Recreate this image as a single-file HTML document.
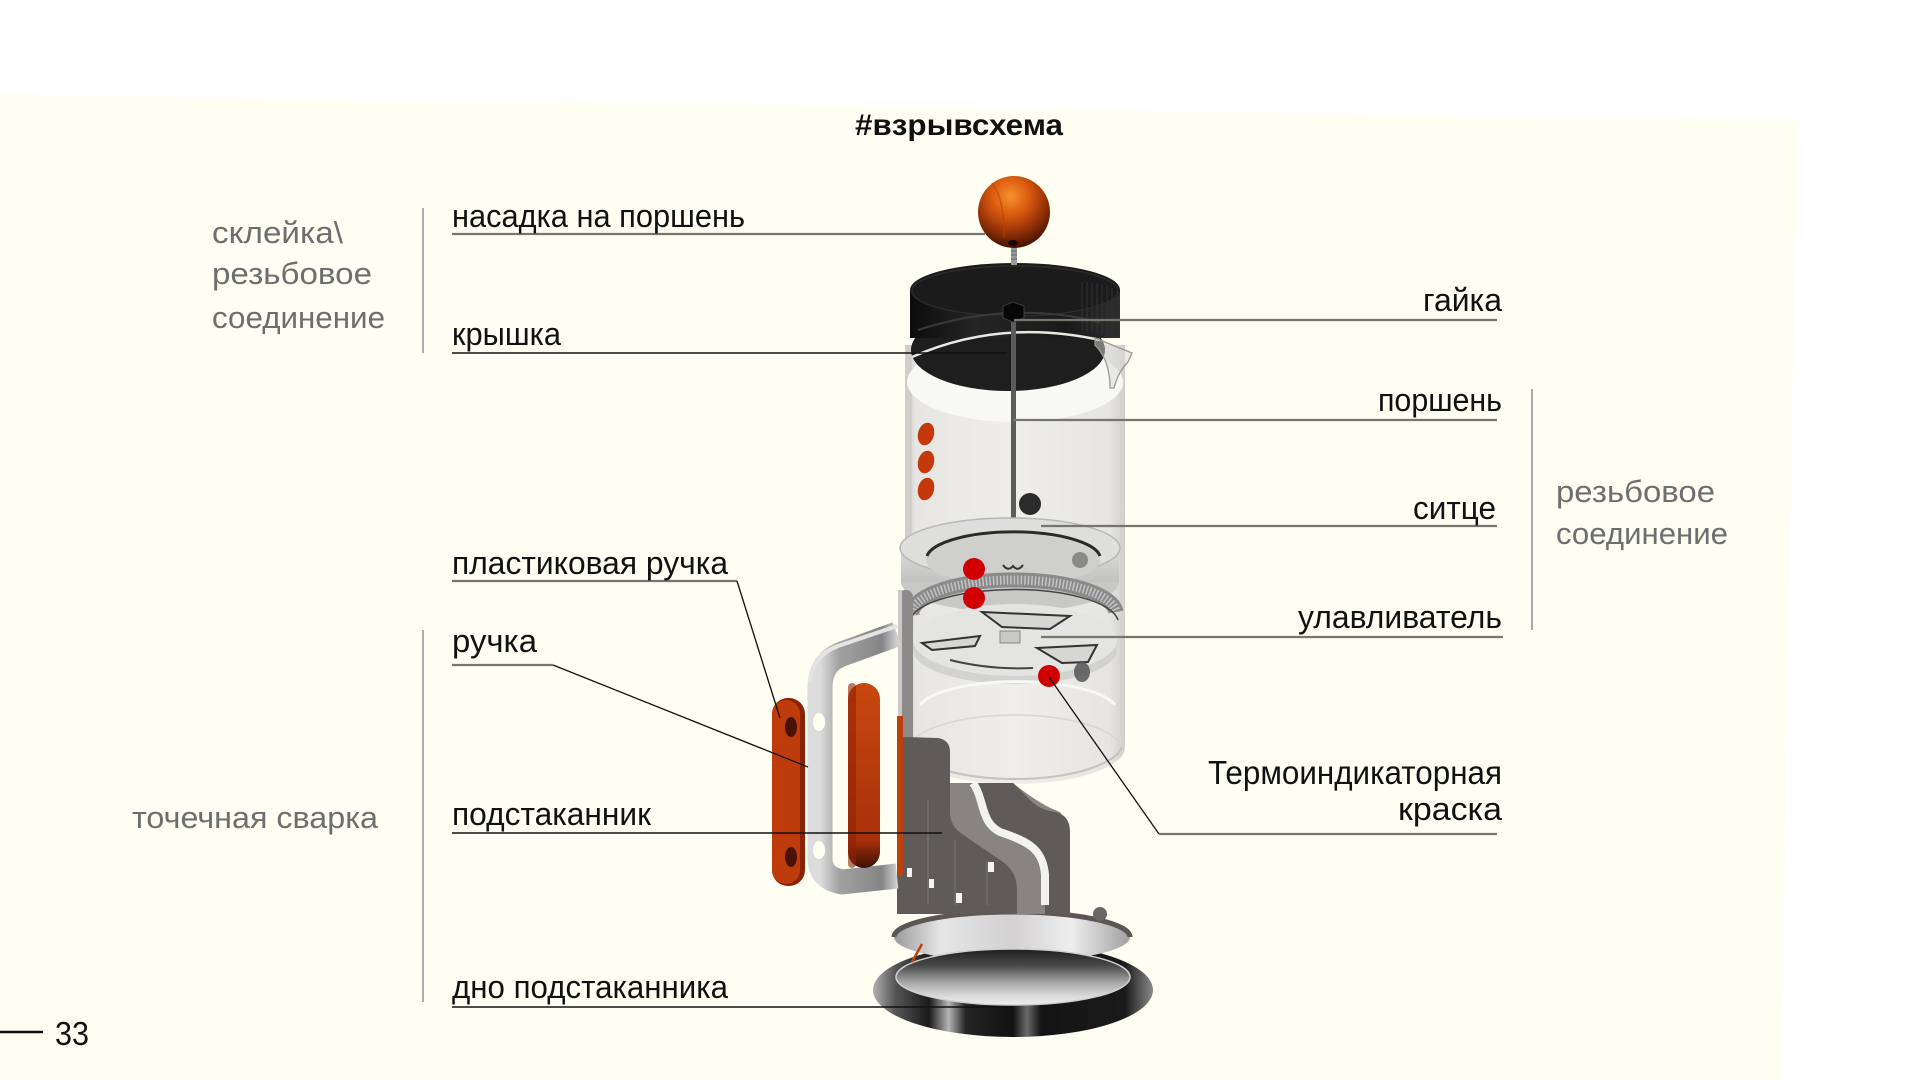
<!DOCTYPE html>
<html><head><meta charset="utf-8">
<style>
html,body{margin:0;padding:0;background:#fff;width:1920px;height:1080px;overflow:hidden;}
svg{display:block;}
text{font-family:"Liberation Sans","DejaVu Sans",sans-serif;}
</style></head><body>
<svg width="1920" height="1080" viewBox="0 0 1920 1080" xmlns="http://www.w3.org/2000/svg">
<defs>
 <radialGradient id="ball" cx="0.45" cy="0.28" r="0.75">
  <stop offset="0" stop-color="#F6922E"/>
  <stop offset="0.35" stop-color="#DA5A10"/>
  <stop offset="0.7" stop-color="#8E2E06"/>
  <stop offset="1" stop-color="#3a1003"/>
 </radialGradient>
 <linearGradient id="lidside" x1="0" x2="1">
  <stop offset="0" stop-color="#0c0c0c"/><stop offset="0.3" stop-color="#242424"/><stop offset="0.75" stop-color="#1a1a1a"/><stop offset="1" stop-color="#2e2e2e"/>
 </linearGradient>
 <linearGradient id="glass" x1="0" x2="1">
  <stop offset="0" stop-color="#c9c8c4"/><stop offset="0.05" stop-color="#e7e6e2"/><stop offset="0.5" stop-color="#efeee9"/><stop offset="0.93" stop-color="#e6e5e1"/><stop offset="1" stop-color="#d0cfcb"/>
 </linearGradient>
 <linearGradient id="foot" x1="0" x2="1">
  <stop offset="0" stop-color="#b0b0b0"/><stop offset="0.08" stop-color="#555"/><stop offset="0.2" stop-color="#1a1a1a"/>
  <stop offset="0.27" stop-color="#b5b5b5"/><stop offset="0.33" stop-color="#262626"/><stop offset="0.5" stop-color="#111"/>
  <stop offset="0.55" stop-color="#6a6a6a"/><stop offset="0.6" stop-color="#141414"/><stop offset="0.9" stop-color="#1a1a1a"/><stop offset="1" stop-color="#8a8a8a"/>
 </linearGradient>
 <linearGradient id="footIn" x1="0" y1="0" x2="0" y2="1">
  <stop offset="0" stop-color="#1e1e1e"/><stop offset="0.3" stop-color="#4a4a4a"/><stop offset="0.6" stop-color="#a8a8a8"/><stop offset="0.85" stop-color="#dcdcdc"/><stop offset="1" stop-color="#eeeeee"/>
 </linearGradient>
 <linearGradient id="silver" x1="0" x2="1">
  <stop offset="0" stop-color="#9a9a9a"/><stop offset="0.2" stop-color="#e6e6e6"/><stop offset="0.5" stop-color="#d2d0d0"/><stop offset="0.75" stop-color="#eeeeee"/><stop offset="1" stop-color="#a0a0a0"/>
 </linearGradient>
 <linearGradient id="orangeV" x1="0" y1="0" x2="0" y2="1">
  <stop offset="0" stop-color="#C8480F"/><stop offset="0.85" stop-color="#A8300A"/><stop offset="1" stop-color="#3a1005"/>
 </linearGradient>
 <linearGradient id="bar" x1="0" x2="1">
  <stop offset="0" stop-color="#dcdcdc"/><stop offset="0.25" stop-color="#a2a2a2"/><stop offset="0.8" stop-color="#858585"/><stop offset="1" stop-color="#d0d0d0"/>
 </linearGradient>
 <linearGradient id="dish" x1="0" y1="0" x2="0" y2="1">
  <stop offset="0" stop-color="#dcdcda"/><stop offset="1" stop-color="#c2c2c0"/>
 </linearGradient>
</defs>

<!-- background -->
<rect width="1920" height="1080" fill="#ffffff"/>
<polygon points="0,94 1797,120 1781,1080 0,1080" fill="#FEFEF2"/>

<!-- ===== press ===== -->
<!-- glass body -->
<path d="M905 345 L1125 345 L1125 747 A110 37 0 0 1 905 747 Z" fill="url(#glass)"/>
<rect x="905" y="345" width="7" height="402" fill="#cfcecb"/>
<!-- white rim band under lid -->
<ellipse cx="1015" cy="382" rx="108" ry="40" fill="#f8f8f5"/>

<!-- lid -->
<ellipse cx="1008" cy="350" rx="97" ry="41" fill="#1e1e1e"/>
<rect x="910" y="290" width="210" height="48" fill="url(#lidside)"/>
<ellipse cx="1015" cy="290" rx="105" ry="27" fill="#1b1b1b"/>
<ellipse cx="1015" cy="291" rx="103" ry="25" fill="none" stroke="#2c2c2c" stroke-width="1.5"/>
<g stroke="#303030" stroke-width="1.2">
 <line x1="1082" y1="282" x2="1082" y2="330"/><line x1="1087" y1="282" x2="1087" y2="331"/><line x1="1092" y1="283" x2="1092" y2="332"/>
 <line x1="1097" y1="284" x2="1097" y2="333"/><line x1="1102" y1="285" x2="1102" y2="334"/><line x1="1107" y1="286" x2="1107" y2="335"/>
 <line x1="1112" y1="288" x2="1112" y2="336"/>
</g>
<path d="M918 330 Q1010 300 1100 322" stroke="#3a3a3a" stroke-width="2" fill="none"/>
<!-- glass rim & spout -->
<path d="M912 357 Q1000 318 1100 340" stroke="#e8e8e4" stroke-width="2.5" fill="none"/>
<path d="M1095 338 L1132 353 L1128 362 Q1118 372 1114 388 L1110 388 Q1110 360 1095 345 Z" fill="#d8d8d4" fill-opacity="0.5" stroke="#9a9a96" stroke-width="1.3"/>
<!-- rod -->
<rect x="1011" y="318" width="5" height="256" fill="#5c5c5c"/>
<!-- nut -->
<polygon points="1003,306 1013,302 1024,306 1024,318 1013,322 1003,318" fill="#070707" stroke="#3a3a3a" stroke-width="1"/>
<!-- thread + ball -->
<rect x="1011" y="247" width="6" height="18" fill="#9a9a9a"/>
<g stroke="#666" stroke-width="1"><line x1="1011" y1="251" x2="1017" y2="251"/><line x1="1011" y1="255" x2="1017" y2="255"/><line x1="1011" y1="259" x2="1017" y2="259"/></g>
<circle cx="1014" cy="212" r="36" fill="url(#ball)"/>
<path d="M992 183 Q1005 200 1004 238" stroke="#b34208" stroke-width="1.5" fill="none" opacity="0.6"/>
<ellipse cx="1013" cy="243" rx="5" ry="3" fill="#1a0602"/>

<!-- orange ovals on glass -->
<ellipse cx="926" cy="434" rx="8" ry="11.5" fill="#C4380A" transform="rotate(15 926 434)"/>
<ellipse cx="926" cy="462" rx="8" ry="11.5" fill="#C4380A" transform="rotate(15 926 462)"/>
<ellipse cx="926" cy="489" rx="8" ry="11.5" fill="#C4380A" transform="rotate(15 926 489)"/>
<!-- black dot -->
<circle cx="1030" cy="504" r="11" fill="#2a2a2a"/>

<!-- filter dish -->
<ellipse cx="1010" cy="582" rx="109" ry="30" fill="#c8c8c6"/>
<rect x="901" y="548" width="218" height="34" fill="url(#dish)"/>
<ellipse cx="1010" cy="548" rx="110" ry="30" fill="#dededc" stroke="#b8b8b6" stroke-width="1.5"/>
<ellipse cx="1013" cy="560" rx="87" ry="26" fill="#cfcfcd"/>
<path d="M927 556 A87 27 0 0 1 1100 556" stroke="#2a2a2a" stroke-width="3" fill="none"/>
<circle cx="1080" cy="560" r="8" fill="#6a6a6a" opacity="0.7"/>
<path d="M1003 565 Q1008 572 1013 566 Q1018 572 1023 565" stroke="#333" stroke-width="2" fill="none"/>
<!-- mesh ring -->
<path d="M912 616 A102 34 0 0 1 1116 612" stroke="#8a8a8a" stroke-width="15" fill="none"/>
<path d="M912 616 A102 34 0 0 1 1116 612" stroke="#c4c4c4" stroke-width="9" stroke-dasharray="1.5 2" fill="none"/>
<path d="M910 626 A103 33 0 0 1 1118 620" stroke="#444" stroke-width="1.5" fill="none"/>
<!-- catcher -->
<path d="M913 640 L913 650 A102 34 0 0 0 1117 650 L1117 640 Z" fill="#d2d2d0"/>
<ellipse cx="1015" cy="640" rx="102" ry="36" fill="#e4e4e2"/>
<path d="M982 612 L1070 616 L1050 629 L1002 627 Z" fill="#d6d6d4" stroke="#333" stroke-width="2"/>
<path d="M922 643 L980 636 L975 646 L932 650 Z" fill="#d6d6d4" stroke="#333" stroke-width="2"/>
<path d="M1037 648 L1097 645 L1088 662 L1062 663 Z" fill="#d6d6d4" stroke="#333" stroke-width="2"/>
<path d="M950 660 Q990 670 1033 668" stroke="#444" stroke-width="2" fill="none"/>
<rect x="1000" y="631" width="20" height="12" fill="#c8c8c6" stroke="#888" stroke-width="1"/>
<ellipse cx="1082" cy="672" rx="8" ry="10" fill="#555" opacity="0.85"/>

<!-- lower glass ring -->
<path d="M908 747 A108 37 0 0 1 1122 747" stroke="#d6d6d2" stroke-width="1.5" fill="none"/>
<path d="M908 747 A108 37 0 0 0 1122 747" stroke="#c4c3bf" stroke-width="2" fill="none"/>
<path d="M920 705 A100 30 0 0 1 1115 705" stroke="#f8f8f6" stroke-width="3" fill="none"/>

<!-- foot -->
<ellipse cx="1013" cy="990" rx="140" ry="47" fill="url(#foot)"/>
<ellipse cx="1012" cy="937" rx="118" ry="25" fill="url(#silver)"/>
<path d="M894 937 A118 25 0 0 1 1130 937" stroke="#5a5755" stroke-width="5" fill="none"/>
<ellipse cx="1013" cy="977" rx="117" ry="28" fill="url(#footIn)" stroke="#d0d0d0" stroke-width="1.5"/>
<circle cx="1100" cy="914" r="7" fill="#6a6866"/>
<path d="M912 962 L922 944" stroke="#c0400c" stroke-width="2.5"/>

<!-- holder -->
<path d="M950 783 L1013 783 Q1040 805 1060 812 L1070 830 L1070 914 L950 914 Z" fill="#878482"/>
<rect x="898" y="590" width="15" height="160" rx="7" fill="#8d8b89"/>
<rect x="898" y="590" width="4" height="160" fill="#c9c9c9"/>
<path d="M897 745 Q897 737 906 737 L938 738 Q950 740 950 752 L950 812 Q950 826 962 834 L1003 862 Q1017 872 1017 890 L1017 914 L897 914 Z" fill="#5e5b59"/>
<path d="M1013 783 L1030 800 Q1040 810 1055 812 Q1070 815 1070 832 L1070 914 L1045 914 L1045 870 Q1043 848 1030 843 Q992 830 987 818 L975 783 Z" fill="#5e5b59"/>
<path d="M973 783 C985 800 980 822 1000 832 C1030 842 1043 850 1045 875 L1045 905" stroke="#f2f2f0" stroke-width="8" fill="none"/>
<rect x="897" y="716" width="6" height="160" fill="#c0400c"/>
<g stroke="#7a7876" stroke-width="1"><line x1="928" y1="800" x2="928" y2="905"/><line x1="955" y1="840" x2="955" y2="905"/><line x1="987" y1="860" x2="987" y2="905"/></g>
<g fill="#f4f4f2">
 <rect x="907" y="868" width="5" height="9"/><rect x="929" y="879" width="5" height="9"/>
 <rect x="956" y="893" width="6" height="10"/><rect x="988" y="862" width="6" height="10"/>
</g>

<!-- metal handle -->
<path d="M897 634 L842 654 Q820 662 820 688 L820 858 Q820 878 842 882 L897 876" stroke="url(#bar)" stroke-width="25" fill="none" stroke-linejoin="round"/>
<path d="M897 626 L838 646 Q812 656 810 682" stroke="#e4e4e4" stroke-width="4" fill="none"/>
<ellipse cx="819" cy="722" rx="6" ry="9" fill="#FEFEF2"/>
<ellipse cx="819" cy="850" rx="6" ry="9" fill="#FEFEF2"/>
<!-- orange pads -->
<rect x="772" y="698" width="33" height="188" rx="16" fill="#8a2205"/>
<rect x="772" y="700" width="28" height="184" rx="14" fill="#BE3C0C"/>
<ellipse cx="791" cy="727" rx="6" ry="10" fill="#4a1204"/>
<ellipse cx="791" cy="857" rx="6" ry="10" fill="#4a1204"/>
<rect x="848" y="683" width="32" height="185" rx="16" fill="url(#orangeV)"/>
<rect x="848" y="683" width="8" height="185" rx="4" fill="#8e2305" opacity="0.6"/>

<!-- thermo dots -->
<circle cx="974" cy="569" r="11" fill="#D00000"/>
<circle cx="974" cy="598" r="11" fill="#D00000"/>
<circle cx="1049" cy="676" r="11" fill="#D00000"/>

<!-- ===== leader lines ===== -->
<g fill="none" stroke-linecap="butt">
 <line x1="452" y1="234" x2="985" y2="234" stroke="#76766e" stroke-width="2.2"/>
 <line x1="452" y1="353" x2="1007" y2="353" stroke="#111" stroke-width="1.6"/>
 <line x1="1014" y1="320" x2="1497" y2="320" stroke="#76766e" stroke-width="2.2"/>
 <line x1="1013" y1="420" x2="1497" y2="420" stroke="#76766e" stroke-width="2.2"/>
 <line x1="1041" y1="526" x2="1497" y2="526" stroke="#76766e" stroke-width="2.2"/>
 <line x1="1041" y1="637" x2="1503" y2="637" stroke="#76766e" stroke-width="2.2"/>
 <line x1="452" y1="581" x2="737" y2="581" stroke="#76766e" stroke-width="2.2"/>
 <line x1="737" y1="581" x2="780" y2="718" stroke="#111" stroke-width="1.3"/>
 <line x1="452" y1="665" x2="553" y2="665" stroke="#76766e" stroke-width="2.2"/>
 <line x1="553" y1="665" x2="808" y2="767" stroke="#111" stroke-width="1.3"/>
 <line x1="452" y1="833" x2="942" y2="833" stroke="#111" stroke-width="1.6"/>
 <line x1="452" y1="1007" x2="1012" y2="1007" stroke="#111" stroke-width="1.6"/>
 <line x1="1049" y1="677" x2="1159" y2="834" stroke="#111" stroke-width="1.3"/>
 <line x1="1159" y1="834" x2="1497" y2="834" stroke="#76766e" stroke-width="2.2"/>
 <line x1="423" y1="208" x2="423" y2="353" stroke="#ababab" stroke-width="2"/>
 <line x1="423" y1="630" x2="423" y2="1002" stroke="#ababab" stroke-width="2"/>
 <line x1="1532" y1="389" x2="1532" y2="630" stroke="#ababab" stroke-width="2"/>
 <line x1="0" y1="1032" x2="43" y2="1032" stroke="#111" stroke-width="2.5"/>
</g>

<!-- ===== text ===== -->
<g fill="#111">
 <text x="855" y="135" font-size="30" font-weight="bold" textLength="208" lengthAdjust="spacingAndGlyphs">#взрывсхема</text>
 <text x="452" y="227" font-size="32" textLength="293" lengthAdjust="spacingAndGlyphs">насадка на поршень</text>
 <text x="452" y="345" font-size="32" textLength="109" lengthAdjust="spacingAndGlyphs">крышка</text>
 <text x="1423" y="311" font-size="32" textLength="79" lengthAdjust="spacingAndGlyphs">гайка</text>
 <text x="1378" y="411" font-size="32" textLength="124" lengthAdjust="spacingAndGlyphs">поршень</text>
 <text x="1413" y="519" font-size="32" textLength="83" lengthAdjust="spacingAndGlyphs">ситце</text>
 <text x="1298" y="628" font-size="32" textLength="204" lengthAdjust="spacingAndGlyphs">улавливатель</text>
 <text x="452" y="574" font-size="32" textLength="276" lengthAdjust="spacingAndGlyphs">пластиковая ручка</text>
 <text x="452" y="652" font-size="32" textLength="85" lengthAdjust="spacingAndGlyphs">ручка</text>
 <text x="452" y="825" font-size="32" textLength="199" lengthAdjust="spacingAndGlyphs">подстаканник</text>
 <text x="452" y="998" font-size="32" textLength="276" lengthAdjust="spacingAndGlyphs">дно подстаканника</text>
 <text x="1208" y="784" font-size="33" textLength="294" lengthAdjust="spacingAndGlyphs">Термоиндикаторная</text>
 <text x="1398" y="820" font-size="32" textLength="104" lengthAdjust="spacingAndGlyphs">краска</text>
 <text x="55" y="1045" font-size="33" textLength="34" lengthAdjust="spacingAndGlyphs">33</text>
</g>
<g fill="#6e6e6e">
 <text x="212" y="243" font-size="31" textLength="131" lengthAdjust="spacingAndGlyphs">склейка\</text>
 <text x="212" y="284" font-size="31" textLength="160" lengthAdjust="spacingAndGlyphs">резьбовое</text>
 <text x="212" y="328" font-size="31" textLength="173" lengthAdjust="spacingAndGlyphs">соединение</text>
 <text x="1556" y="502" font-size="31" textLength="159" lengthAdjust="spacingAndGlyphs">резьбовое</text>
 <text x="1556" y="544" font-size="31" textLength="172" lengthAdjust="spacingAndGlyphs">соединение</text>
 <text x="132" y="828" font-size="31" textLength="246" lengthAdjust="spacingAndGlyphs">точечная сварка</text>
</g>
</svg>
</body></html>
